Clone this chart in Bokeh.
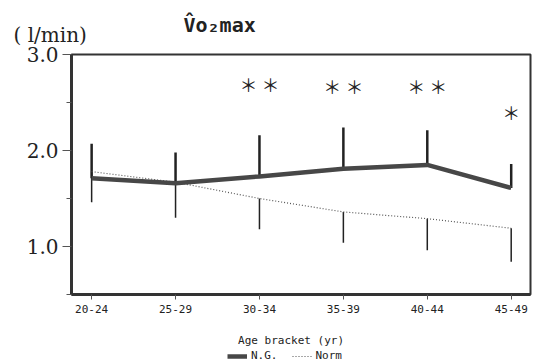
from bokeh.plotting import figure
from bokeh.layouts import column
from bokeh.models import FixedTicker, Title, Legend, LegendItem, ColumnDataSource, Range1d
from bokeh.core.properties import value
from bokeh.embed import file_html
from bokeh.resources import INLINE

categories = ["20-24", "25-29", "30-34", "35-39", "40-44", "45-49"]
ng_mean = [1.71, 1.66, 1.73, 1.81, 1.85, 1.61]
ng_sd = [0.36, 0.32, 0.43, 0.43, 0.36, 0.25]
norm_mean = [1.78, 1.67, 1.50, 1.36, 1.29, 1.19]
norm_sd = [0.32, 0.37, 0.32, 0.32, 0.33, 0.35]
sig_marks = ["", "", "＊ ＊", "＊ ＊", "＊ ＊", "＊"]
sig_y = [None, None, 2.69, 2.67, 2.67, 2.40]
y_major = [1.0, 2.0, 3.0]
y_minor = [0.5, 1.5, 2.5]

xs = list(range(len(categories)))
ng_top = [m + s for m, s in zip(ng_mean, ng_sd)]
norm_bot = [m - s for m, s in zip(norm_mean, norm_sd)]

W = 539
H_MAIN = 349
H_LEG = 13

NG_STYLE = dict(line_color="#474747", line_width=4.5)
NORM_STYLE = dict(line_color="#555555", line_width=1.2, line_dash="1 2")

p = figure(width=W, height=H_MAIN, output_backend="svg", toolbar_location=None,
           x_range=Range1d(-0.24, 5.23), y_range=Range1d(0.5, 3.0))
p.min_border_left = 71
p.min_border_right = 9
p.min_border_top = 54
p.min_border_bottom = 55
p.background_fill_color = "white"
p.border_fill_color = "white"
p.xgrid.visible = False
p.ygrid.visible = False
p.outline_line_color = "#333333"
p.outline_line_width = 2

# axes
p.yaxis.ticker = FixedTicker(ticks=y_major, minor_ticks=y_minor)
p.yaxis.major_label_overrides = {1.0: "1.0", 2.0: "2.0", 3.0: "3.0"}
p.yaxis.major_label_text_font = "DejaVu Serif"
p.yaxis.major_label_text_font_size = "20px"
p.yaxis.major_label_text_color = "#222222"
p.yaxis.major_tick_out = 9
p.yaxis.major_tick_in = 0
p.yaxis.minor_tick_out = 5
p.yaxis.minor_tick_in = 0
p.yaxis.major_label_standoff = 4
p.yaxis.axis_line_width = 3
p.yaxis.axis_line_color = "#333333"
p.yaxis.major_tick_line_color = "#555555"
p.yaxis.minor_tick_line_color = "#555555"

p.xaxis.ticker = FixedTicker(ticks=xs)
p.xaxis.major_label_overrides = {i: c for i, c in zip(xs, categories)}
p.xaxis.major_label_text_font = "DejaVu Sans Mono"
p.xaxis.major_label_text_font_size = "11px"
p.xaxis.major_label_text_color = "#222222"
p.xaxis.major_tick_out = 5
p.xaxis.major_tick_in = 0
p.xaxis.minor_tick_line_color = None
p.xaxis.major_label_standoff = 5
p.xaxis.axis_line_width = 3
p.xaxis.axis_line_color = "#333333"
p.xaxis.major_tick_line_color = "#555555"
p.xaxis.axis_label = "Age bracket (yr)" + "\u00a0" * 3
p.xaxis.axis_label_text_font = "DejaVu Sans Mono"
p.xaxis.axis_label_text_font_size = "11px"
p.xaxis.axis_label_text_font_style = "normal"
p.xaxis.axis_label_text_color = "#222222"
p.xaxis.axis_label_standoff = 18

src = ColumnDataSource(dict(x=xs, ng=ng_mean, ngt=ng_top, nm=norm_mean, nb=norm_bot))

# error bars
p.segment(x0="x", y0="ng", x1="x", y1="ngt", source=src, line_color="#222222", line_width=2.5)
p.segment(x0="x", y0="nm", x1="x", y1="nb", source=src, line_color="#222222", line_width=1.5)

# lines
p.line("x", "nm", source=src, **NORM_STYLE)
p.line("x", "ng", source=src, **NG_STYLE)

# significance marks
sx = [x for x, s in zip(xs, sig_marks) if s]
sy = [y for y, s in zip(sig_y, sig_marks) if s]
st = [s for s in sig_marks if s]
p.text(x=sx, y=sy, text=st, text_font=value("Noto Sans CJK JP"), text_font_size="18px",
       text_align="center", text_baseline="middle", text_color="#222222")

# unit label (closest to the frame) and chart title above it
p.add_layout(Title(text="( l/min)", align="left", offset=-58, standoff=15,
                   text_font="DejaVu Serif", text_font_size="20px",
                   text_font_style="normal", text_color="#222222"), "above")
p.add_layout(Title(text="V\u0302o\u2082max", align="left", offset=112, standoff=-46,
                   text_font="DejaVu Sans Mono", text_font_size="20px",
                   text_font_style="bold", text_color="#222222"), "above")

# legend strip below the chart
leg = figure(width=W, height=H_LEG, output_backend="svg", toolbar_location=None,
             x_range=Range1d(0, 1), y_range=Range1d(0, 1),
             x_axis_type=None, y_axis_type=None, min_border=0)
leg.outline_line_color = None
leg.xgrid.visible = False
leg.ygrid.visible = False
r_ng = leg.line(x=[-10, -9], y=[-10, -10], **NG_STYLE)
r_norm = leg.line(x=[-10, -9], y=[-10, -10], **NORM_STYLE)
legend = Legend(items=[LegendItem(label="N.G.", renderers=[r_ng]),
                       LegendItem(label="Norm", renderers=[r_norm])],
                orientation="horizontal", location=(156, 0),
                glyph_width=20, glyph_height=10, label_height=10,
                label_text_font="DejaVu Sans Mono", label_text_font_size="11px",
                label_text_color="#222222", label_standoff=4, spacing=14,
                padding=0, margin=0, border_line_color=None, background_fill_alpha=0)
leg.add_layout(legend, "center")

layout = column(p, leg, spacing=0)
open("out.html", "w").write(file_html(layout, INLINE))
